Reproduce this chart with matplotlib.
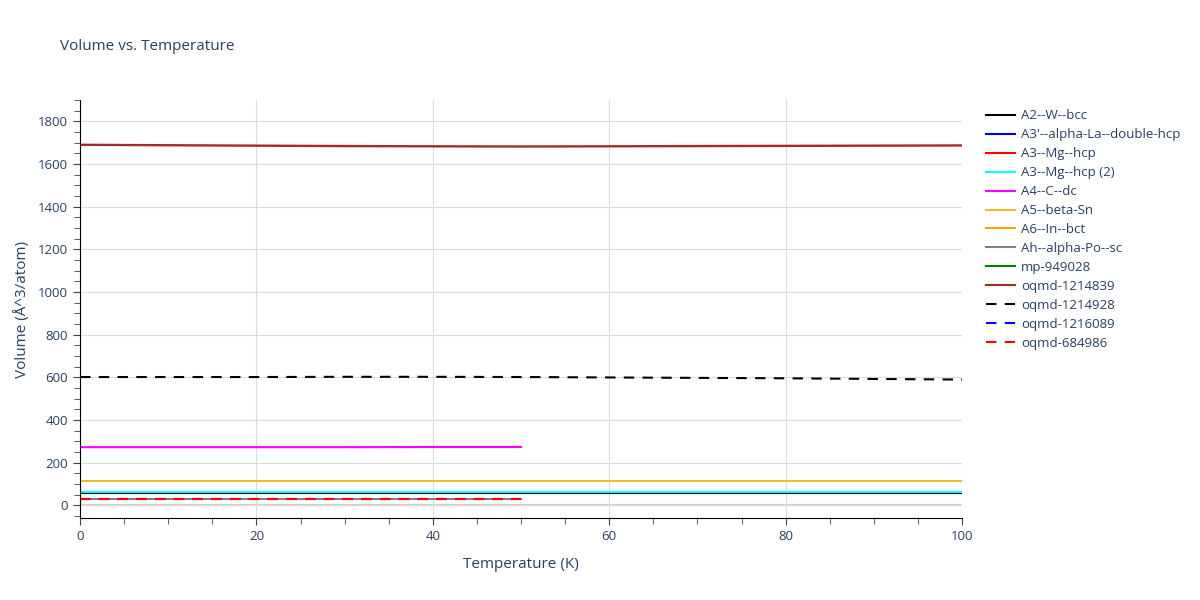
import numpy as np
import matplotlib.pyplot as plt
from matplotlib.lines import Line2D
from matplotlib.ticker import MultipleLocator

# temperature grids (K)
temp_full = [0, 10, 20, 30, 40, 50, 60, 70, 80, 90, 100]
temp_half = [0, 10, 20, 30, 40, 50]

# volumes (A^3/atom)
vol_a2_w_bcc = [57, 57, 57, 57, 57, 57, 57, 57, 57, 57, 57]
vol_a3p_la = [60, 60, 60, 60, 60, 60, 60, 60, 60, 60, 60]
vol_a3_mg = [60, 60, 60, 60, 60, 60, 60, 60, 60, 60, 60]
vol_a3_mg2 = [61, 61, 61, 61, 61, 61, 61, 61, 61, 61, 61]
vol_a4_c = [272, 272, 272, 272, 273, 273]
vol_a5_sn = [115, 115, 115, 115, 115, 115, 115, 115, 115, 115, 115]
vol_a6_in = [1690, 1688, 1686, 1684, 1683, 1682, 1683, 1684, 1685, 1686, 1687]
vol_ah_po = [30, 30, 30, 30, 30, 30]
vol_mp949028 = [1690, 1688, 1686, 1684, 1683, 1682, 1683, 1684, 1685, 1686, 1687]
vol_oqmd1214839 = [1690, 1688, 1686, 1684, 1683, 1682, 1683, 1684, 1685, 1686, 1687]
vol_oqmd1214928 = [601, 601, 601, 602, 602, 601, 599, 597, 595, 592, 589]
vol_oqmd1216089 = [30, 30, 30, 30, 30, 30]
vol_oqmd684986 = [30, 30, 30, 30, 30, 30]

series = [
    ("A2--W--bcc", temp_full, vol_a2_w_bcc, "black", "-"),
    ("A3'--alpha-La--double-hcp", temp_full, vol_a3p_la, "blue", "-"),
    ("A3--Mg--hcp", temp_full, vol_a3_mg, "red", "-"),
    ("A3--Mg--hcp (2)", temp_full, vol_a3_mg2, "cyan", "-"),
    ("A4--C--dc", temp_half, vol_a4_c, "magenta", "-"),
    ("A5--beta-Sn", temp_full, vol_a5_sn, "#e8c02a", "-"),
    ("A6--In--bct", temp_full, vol_a6_in, "orange", "-"),
    ("Ah--alpha-Po--sc", temp_half, vol_ah_po, "gray", "-"),
    ("mp-949028", temp_full, vol_mp949028, "green", "-"),
    ("oqmd-1214839", temp_full, vol_oqmd1214839, "brown", "-"),
    ("oqmd-1214928", temp_full, vol_oqmd1214928, "black", "--"),
    ("oqmd-1216089", temp_half, vol_oqmd1216089, "blue", "--"),
    ("oqmd-684986", temp_half, vol_oqmd684986, "red", "--"),
]
# traces that sit underneath a later one of the same values
hidden = {"A3'--alpha-La--double-hcp", "A3--Mg--hcp", "A6--In--bct", "mp-949028"}

txt = "#2a3f5f"
plt.rcParams['font.family'] = ['Open Sans', 'DejaVu Sans']

fig = plt.figure(figsize=(12, 6), dpi=100)
ax = fig.add_axes([0.0667, 0.1367, 0.735, 0.6966])

legend_handles = []
for name, t, v, c, ls in series:
    lw = 0.4 if name in hidden else 1.5
    if name == "oqmd-1214839":
        lw = 1.7
    style = (0, (5, 4)) if ls == "--" else "-"
    ax.plot(t, v, color=c, lw=lw, ls=style)
    legend_handles.append(Line2D([], [], color=c, lw=1.5, ls=style, label=name))

ax.set_xlim(0, 100)
ax.set_ylim(-60, 1900)
ax.axhline(0, color="#d0d0d0", lw=1.6, zorder=0)
ax.grid(True, color="#dcdcdc", lw=0.8)
ax.set_axisbelow(True)

ax.xaxis.set_major_locator(MultipleLocator(20))
ax.xaxis.set_minor_locator(MultipleLocator(5))
ax.yaxis.set_major_locator(MultipleLocator(200))
ax.yaxis.set_minor_locator(MultipleLocator(50))
ax.tick_params(which="both", direction="out", colors="#444444", labelcolor=txt, labelsize=9.5)
ax.tick_params(which="major", length=5)
ax.tick_params(which="minor", length=4)

for s in ["top", "right"]:
    ax.spines[s].set_visible(False)
ax.spines["left"].set_color("black")
ax.spines["bottom"].set_color("black")

ax.set_xlabel("Temperature (K)", color=txt, fontsize=11, labelpad=10)
ax.set_ylabel("Volume (Å^3/atom)", color=txt, fontsize=11, labelpad=6)
fig.text(0.05, 0.922, "Volume vs. Temperature", color=txt, fontsize=11, va="center")

leg = ax.legend(handles=legend_handles, loc="upper left", bbox_to_anchor=(1.021, 0.99),
                frameon=False, fontsize=9.5, handlelength=2.2, handletextpad=0.45,
                labelspacing=0.45, borderaxespad=0)
for t in leg.get_texts():
    t.set_color(txt)

fig.savefig("out.png", dpi=100)
